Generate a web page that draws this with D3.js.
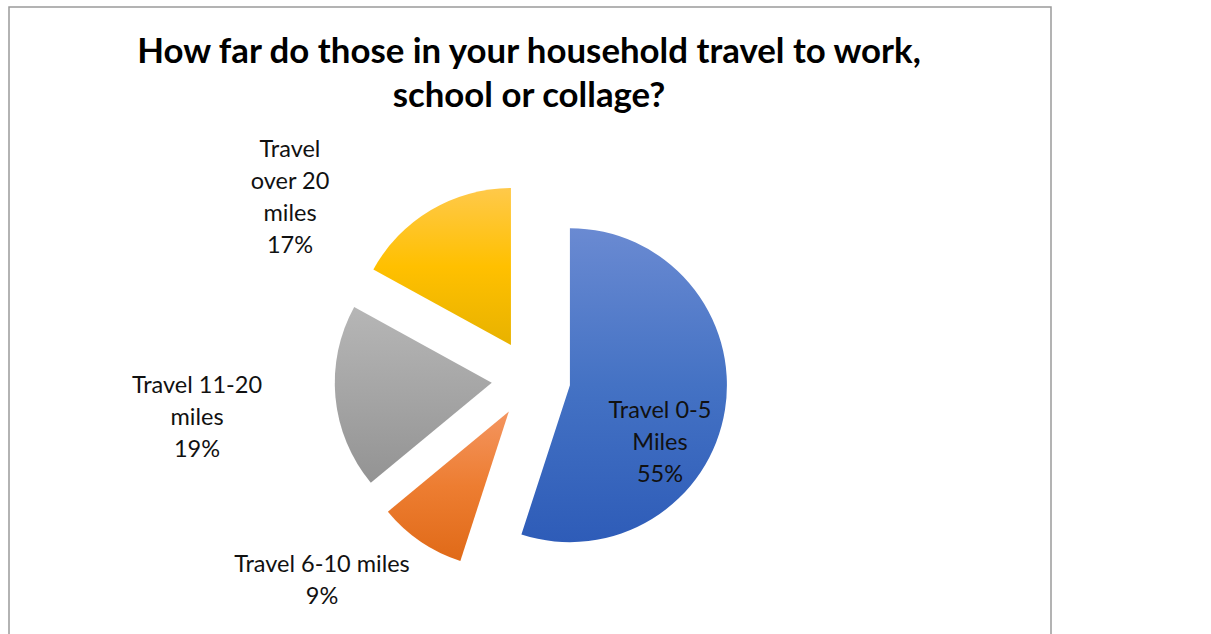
<!DOCTYPE html>
<html><head><meta charset="utf-8">
<script src="https://cdn.jsdelivr.net/npm/d3@7"></script>
<style>body{margin:0;background:#fff;} svg{display:block;} text{font-family:Lato,"Open Sans",sans-serif;}</style>
</head><body>
<svg id="chart" width="1211" height="634"></svg>
<script>
const categories = ["Travel 0-5 Miles", "Travel 6-10 miles", "Travel 11-20 miles", "Travel over 20 miles"];
const values = [55, 9, 19, 17];
const labelLines = [["Travel 0-5", "Miles", "55%"], ["Travel 6-10 miles", "9%"], ["Travel 11-20", "miles", "19%"], ["Travel", "over 20", "miles", "17%"]];
const titleLines = ["How far do those in your household travel to work,", "school or collage?"];

// styling / layout
const colors = [
  ["#6a8ad2", "#4472c4", "#2e5cb8"],
  ["#f49560", "#ed7d31", "#e06a18"],
  ["#b6b6b6", "#a5a5a5", "#939393"],
  ["#ffc94a", "#ffc000", "#e8b200"]
];
const cx = 531, cy = 379, R = 157, explode = 39.4;
const labelPos = [[129, 63], [-209, 201], [-334, 38], [-241, -182]]; // offsets of label centres from pie centre
const lineH = 31.7;

const svg = d3.select("#chart");
const defs = svg.append("defs");

svg.append("rect").attr("x", 9).attr("y", 7).attr("width", 1042).attr("height", 640)
  .attr("fill", "none").attr("stroke", "#9a9a9a").attr("stroke-width", 1.5);

const title = svg.append("g");
const titleY = [63, 107];
titleLines.forEach((t, i) => {
  title.append("text").attr("x", 529).attr("y", titleY[i]).attr("text-anchor", "middle")
    .attr("font-weight", "bold").attr("font-size", 30).attr("fill", "#000").text(t);
});
const t0 = title.select("text").node();
const w0 = t0.getComputedTextLength();
const fs = 30 * 784 / w0;
title.selectAll("text").attr("font-size", fs);

const pie = d3.pie().sort(null).value(d => d)(values);
const arc = d3.arc().innerRadius(0).outerRadius(R);

colors.forEach((c, i) => {
  const g = defs.append("linearGradient").attr("id", "grad" + i)
    .attr("x1", 0).attr("y1", 0).attr("x2", 0).attr("y2", 1);
  g.append("stop").attr("offset", "0%").attr("stop-color", c[0]);
  g.append("stop").attr("offset", "50%").attr("stop-color", c[1]);
  g.append("stop").attr("offset", "100%").attr("stop-color", c[2]);
});

const slices = svg.append("g").attr("transform", `translate(${cx},${cy})`);
slices.selectAll("path").data(pie).join("path")
  .attr("d", arc)
  .attr("fill", (d, i) => `url(#grad${i})`)
  .attr("transform", d => {
    const a = (d.startAngle + d.endAngle) / 2;
    return `translate(${explode * Math.sin(a)},${-explode * Math.cos(a)})`;
  });

const labels = svg.append("g").attr("transform", `translate(${cx},${cy})`);
pie.forEach((d, i) => {
  const lines = labelLines[i];
  const [lx, ly] = labelPos[i];
  const t = labels.append("text").attr("text-anchor", "middle").attr("font-size", 23.5).attr("fill", "#111");
  lines.forEach((ln, j) => {
    t.append("tspan").attr("x", lx).attr("y", ly + (j - (lines.length - 1) / 2) * lineH + 8).text(ln);
  });
});
</script>
</body></html>
